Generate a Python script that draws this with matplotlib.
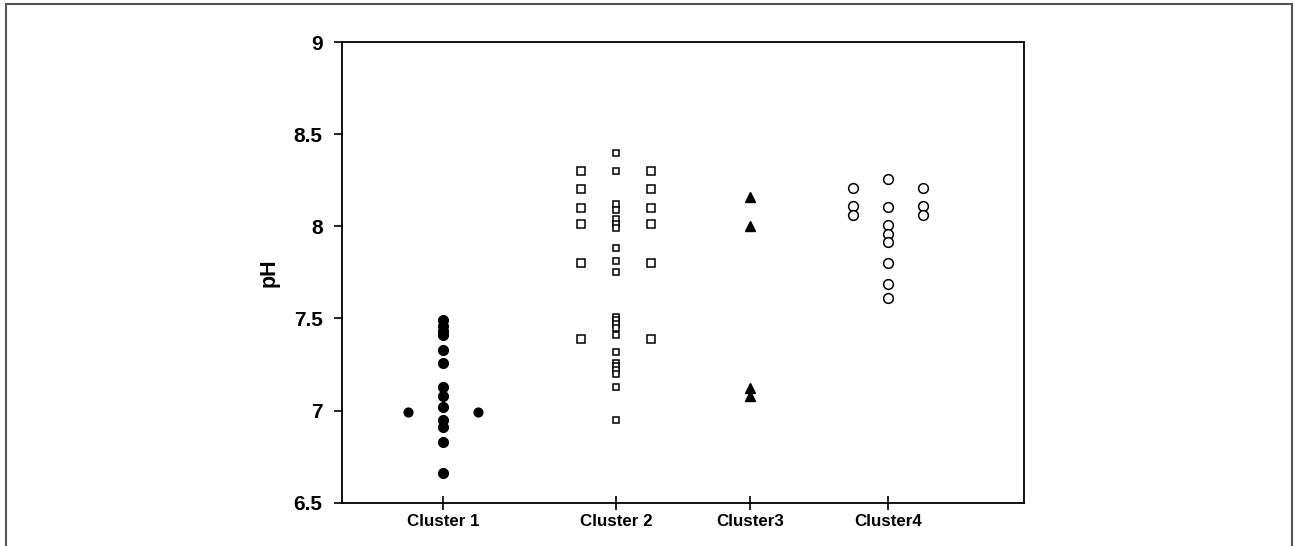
import matplotlib.pyplot as plt
from matplotlib.patches import Rectangle

plt.rcParams['font.family'] = ['Liberation Sans', 'DejaVu Sans']
plt.rcParams['font.weight'] = 'bold'

#cluster names and where they sit on the x axis
clusters = ['Cluster 1', 'Cluster 2', 'Cluster3', 'Cluster4']
positions = [1, 2, 2.775, 3.572]
side = 0.2

#pH values (centre column, left column, right column)
c1_mid = [7.49, 7.46, 7.43, 7.41, 7.33, 7.26, 7.13, 7.08, 7.02, 6.95, 6.91, 6.83, 6.66]
c1_left = [6.99]
c1_right = [6.99]

c2_mid = [8.40, 8.30, 8.12, 8.09, 8.04, 8.01, 7.99, 7.88, 7.81, 7.75,
          7.51, 7.49, 7.47, 7.45, 7.41, 7.32, 7.26, 7.24, 7.22, 7.20, 7.13, 6.95]
c2_left = [8.30, 8.20, 8.10, 8.01, 7.80, 7.39]
c2_right = [8.30, 8.20, 8.10, 8.01, 7.80, 7.39]

c3_mid = [8.16, 8.00, 7.12, 7.08]

c4_mid = [8.255, 8.105, 8.005, 7.96, 7.915, 7.80, 7.687, 7.61]
c4_left = [8.21, 8.11, 8.06]
c4_right = [8.21, 8.11, 8.06]

fig = plt.figure(figsize=(12.94, 5.46), dpi=100)
ax = fig.add_axes([342/1294, 1 - 502.7/546, (1024 - 342)/1294, (502.7 - 42)/546])

#frame round the whole figure
fig.patches.append(Rectangle((6/1294, -0.02), 1286/1294, 1.02 - 4/546, transform=fig.transFigure,
                             fill=False, edgecolor='#555555', linewidth=1.5))

def column(x, vals, **kw):
    ax.plot([x] * len(vals), vals, linestyle='none', **kw)

#cluster 1: filled circles
column(positions[0], c1_mid, marker='o', color='black', markersize=7)
column(positions[0] - side, c1_left, marker='o', color='black', markersize=6.3)
column(positions[0] + side, c1_right, marker='o', color='black', markersize=6.3)

#cluster 2: open squares
column(positions[1], c2_mid, marker='s', markerfacecolor='white', markeredgecolor='black',
       markersize=4.3, markeredgewidth=1.1)
sq = dict(marker='s', markerfacecolor='white', markeredgecolor='black', markersize=5.2, markeredgewidth=1.1)
column(positions[1] - side, c2_left, **sq)
column(positions[1] + side, c2_right, **sq)

#cluster 3: filled triangles
column(positions[2], c3_mid, marker='^', color='black', markersize=7.5)

#cluster 4: open circles
circ = dict(marker='o', markerfacecolor='white', markeredgecolor='black', markersize=7, markeredgewidth=1.1)
column(positions[3], c4_mid, **circ)
column(positions[3] - side, c4_left, **circ)
column(positions[3] + side, c4_right, **circ)

ax.set_xlim(0.416, 4.358)
ax.set_ylim(6.5, 9)
ax.set_yticks([6.5, 7, 7.5, 8, 8.5, 9])
ax.set_yticklabels(['6.5', '7', '7.5', '8', '8.5', '9'])
ax.set_xticks(positions)
ax.set_xticklabels(clusters)

ax.tick_params(axis='y', direction='out', length=6, width=1.2, pad=8, labelsize=15)
ax.tick_params(axis='x', direction='inout', length=10, width=1.2, pad=3, labelsize=12.2)
for s in ax.spines.values():
    s.set_linewidth(1.3)

ax.set_ylabel('pH', fontsize=15.5, fontweight='bold', labelpad=10)

plt.savefig('out.png', dpi=100)
